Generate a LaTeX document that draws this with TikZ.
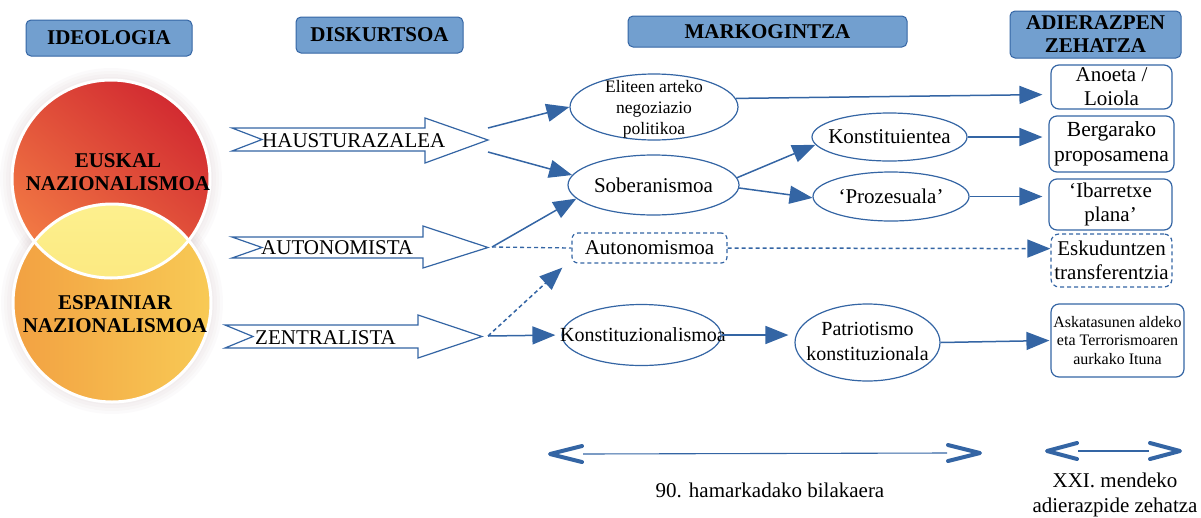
\documentclass[tikz,border=0pt]{standalone}
\usepackage{fontspec}
\setmainfont{Liberation Serif}
\usetikzlibrary{shapes.geometric,arrows.meta}
\definecolor{lblue}{HTML}{3465A4}
\definecolor{hfill}{HTML}{729FCF}
\definecolor{redD}{HTML}{D22B31}
\definecolor{redL}{HTML}{F27A44}
\definecolor{orL}{HTML}{F2A142}
\definecolor{orR}{HTML}{F8CA55}
\definecolor{lensT}{HTML}{FDF08E}
\definecolor{lensB}{HTML}{F9DE6C}
\definecolor{shadowc}{HTML}{9A7A80}
\newcommand\myfs[2]{\fontsize{#1}{#2}\selectfont}
\begin{document}
\begin{tikzpicture}[x=1pt,y=-1pt,
  hdr/.style={draw=lblue, fill=hfill, rounded corners=5pt, line width=1pt, inner sep=0pt, align=center, font=\myfs{21}{23}\bfseries},
  ell/.style={draw=lblue, ellipse, line width=1.2pt, inner sep=0pt, fill=white},
  box/.style={draw=lblue, rounded corners=8pt, line width=1.2pt, inner sep=0pt, align=center, font=\myfs{21}{24}},
  dbox/.style={box, dash pattern=on 4pt off 3pt},
  txt/.style={font=\myfs{21}{24}, align=center, inner sep=0pt},
  btxt/.style={font=\myfs{21}{23}\bfseries, align=center, inner sep=0pt},
  con/.style={draw=lblue, line width=1.5pt, -{Triangle[length=23pt,width=18pt]}},
  dcon/.style={con, dash pattern=on 4pt off 3pt},
  dline/.style={draw=lblue, line width=1.3pt, dash pattern=on 4pt off 3pt},
  barr/.style={draw=lblue, line width=1.2pt, fill=white, line join=miter},
  spanline/.style={draw=lblue, line width=1.1pt},
  chevtip/.style={draw=lblue, line width=4pt, line cap=round, line join=round}
]
\useasboundingbox (0,0) rectangle (1201,517);

% headers
\node[hdr, minimum width=166pt, minimum height=36pt] (hid) at (109,38) {IDEOLOGIA};
\node[hdr, minimum width=167pt, minimum height=36pt] (hdi) at (379.5,35) {DISKURTSOA};
\node[hdr, minimum width=279pt, minimum height=31pt] (hma) at (767.5,31.5) {MARKOGINTZA};
\node[hdr, minimum width=171pt, minimum height=47pt] (had) at (1095.5,34.5) {ADIERAZPEN\\ZEHATZA};

% circles: soft shadow
\foreach \k in {3,6,9,12} {
  \fill[shadowc, opacity=0.035] (111,179) circle[radius=99pt+\k pt];
  \fill[shadowc, opacity=0.035] (112,303) circle[radius=99pt+\k pt];
}
\shade[top color=redD, bottom color=redL, shading angle=-40] (111,179) circle[radius=99pt];
\shade[left color=orL, right color=orR] (112,303) circle[radius=99pt];
\begin{scope}
  \clip (111,179) circle[radius=99pt];
  \shade[top color=lensT, bottom color=lensB] (112,303) circle[radius=99pt];
\end{scope}
\draw[white, line width=3pt] (111,179) circle[radius=99pt];
\draw[white, line width=3pt] (112,303) circle[radius=99pt];
\node[btxt] (eus) at (118,172) {EUSKAL\\NAZIONALISMOA};
\node[btxt] (esp) at (115,314) {ESPAINIAR\\NAZIONALISMOA};

% block arrows (diskurtsoa)
\draw[barr] (232,128) -- (262,139.5) -- (232,151) -- (425,151) -- (425,163) -- (488,140) -- (425,118) -- (425,128) -- cycle;
\draw[barr] (232,237) -- (262,247.5) -- (232,258) -- (423,258) -- (423,268) -- (488,247.5) -- (423,226) -- (423,237) -- cycle;
\draw[barr] (225,325) -- (253,336.5) -- (225,348) -- (418,348) -- (418,358) -- (482,336.5) -- (418,315) -- (418,325) -- cycle;
\node[txt, anchor=west] (thau) at (262,141) {HAUSTURAZALEA};
\node[txt, anchor=west] (taut) at (261,248) {AUTONOMISTA};
\node[txt, anchor=west] (tzen) at (255,338) {ZENTRALISTA};
\coordinate (hA) at (488,128);
\coordinate (hB) at (488,152);
\coordinate (aA) at (492,247);
\coordinate (zA) at (488,336);

% middle column
\node[ell, minimum width=168pt, minimum height=66pt] (eli) at (654,107) {};
\node[txt, font=\myfs{17.5}{21}] (teli) at (654,109) {Eliteen arteko\\negoziazio\\politikoa};
\node[ell, minimum width=171pt, minimum height=60pt] (sob) at (653.5,185) {};
\node[txt] (tsob) at (sob) {Soberanismoa};
\node[ell, minimum width=155pt, minimum height=48pt] (kst) at (889.5,137) {};
\node[txt] (tkst) at (kst) {Konstituientea};
\node[ell, minimum width=156pt, minimum height=49pt] (pro) at (891,196.5) {};
\node[txt] (tpro) at (pro) {‘Prozesuala’};
\node[dbox, minimum width=155pt, minimum height=30pt, rounded corners=6pt] (auto) at (649.5,248) {Autonomismoa};
\node[ell, minimum width=159pt, minimum height=61pt] (kon) at (641.5,335) {};
\node[txt, font=\myfs{20}{24}] (tkon) at (643,335) {Konstituzionalismoa};
\node[ell, minimum width=145pt, minimum height=77pt] (pat) at (867.5,342.5) {};
\node[txt, font=\myfs{20}{25}] (tpat) at (867.5,341) {Patriotismo\\konstituzionala};

% right column
\node[box, minimum width=121pt, minimum height=44pt] (ano) at (1111.5,87) {Anoeta /\\Loiola};
\node[box, minimum width=125pt, minimum height=56pt, font=\myfs{21.5}{25}] (ber) at (1111.5,144) {Bergarako\\proposamena};
\node[box, minimum width=123pt, minimum height=51pt] (iba) at (1110.5,204.5) {‘Ibarretxe\\plana’};
\node[dbox, minimum width=121pt, minimum height=53pt] (esk) at (1111.5,260.5) {Eskuduntzen\\transferentzia};
\node[box, minimum width=133pt, minimum height=73pt, font=\myfs{16}{18.5}] (ask) at (1117.5,340.5) {Askatasunen aldeko\\eta Terrorismoaren\\aurkako Ituna};

% connectors
\draw[con] (hA) -- (eli.west);
\draw[con] (hB) -- (sob.173);
\draw[con] (aA) -- (sob.190);
\draw[dline] (aA) -- (auto.west);
\draw[dcon] (auto.east) -- (esk.169);
\draw[dcon] (zA) -- ([xshift=-9pt,yshift=-4pt]auto.south west);
\draw[con, shorten >=6pt] (zA) -- (kon.west);
\draw[con, shorten >=6pt] (kon.east) -- (kon.east -| pat.west);
\draw[con, shorten >=1pt] (pat.east) -- (ask.west);
\draw[con, shorten >=8pt] (eli.6) -- (ano.187);
\draw[con] (sob.5) -- (kst.186);
\draw[con] (sob.358) -- (pro.181);
\draw[con, shorten >=6pt] (kst.east) -- (kst.east -| ber.west);
\draw[con, shorten >=6pt] (pro.east) -- (pro.east -| iba.west);

% bottom time spans
\coordinate (b1) at (550,454);
\coordinate (b2) at (980,453);
\coordinate (c1) at (1047,451);
\coordinate (c2) at (1180,451);
\draw[spanline] ([xshift=33pt]b1) -- ([xshift=-33pt]b2);
\draw[chevtip] ([shift={(32,-8)}]b1) -- (b1) -- ([shift={(32,8)}]b1);
\draw[chevtip] ([shift={(-32,-8)}]b2) -- (b2) -- ([shift={(-32,8)}]b2);
\draw[spanline] ([xshift=31pt]c1) -- ([xshift=-31pt]c2);
\draw[chevtip] ([shift={(30,-8)}]c1) -- (c1) -- ([shift={(30,8)}]c1);
\draw[chevtip] ([shift={(-30,-8)}]c2) -- (c2) -- ([shift={(-30,8)}]c2);
\node[txt] (t90) at (770,490) {90. hamarkadako bilakaera};
\node[txt, font=\myfs{21}{25}] (txxi) at (1115,495) {XXI. mendeko\\adierazpide zehatza};
\end{tikzpicture}
\end{document}
